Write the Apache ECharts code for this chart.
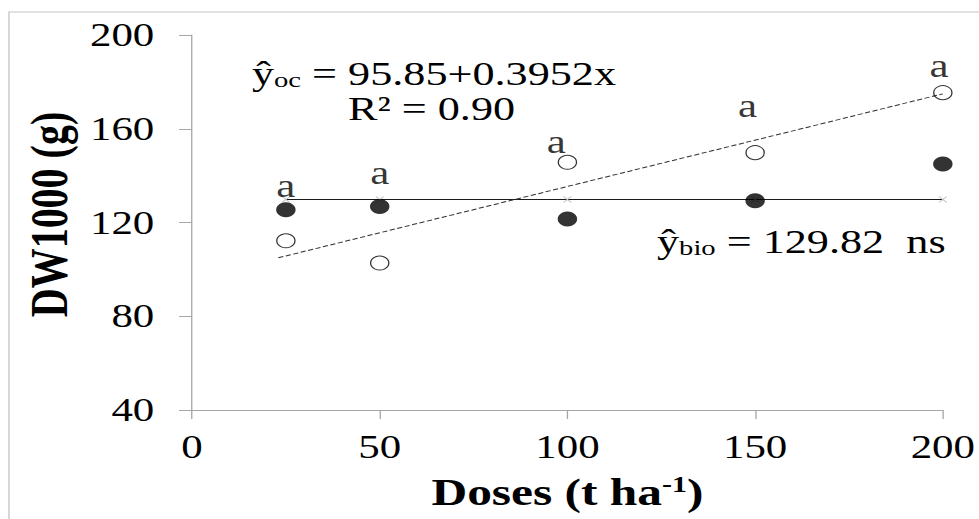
<!DOCTYPE html>
<html><head><meta charset="utf-8">
<script src="https://cdn.jsdelivr.net/npm/echarts@6/dist/echarts.min.js"></script>
<style>
html,body{margin:0;padding:0;background:#fff;overflow:hidden;width:979px;height:519px}
#wrap{width:979px;height:519px;overflow:hidden;position:relative}
#chart{width:753px;height:519px;transform:scaleX(1.3);transform-origin:0 0}
</style>
</head><body><div id="wrap"><div id="chart"></div></div>
<script>
// ---- data ----
const doses = [25, 50, 100, 150, 200];
const bioValues = [125.4, 126.8, 121.5, 129.3, 145.0];
const ocValues = [112.2, 102.7, 145.7, 149.8, 175.4];
const bioMean = 129.82;
const ocTrendX = [23, 200];
const ocTrendY = [104.94, 174.89];
const letters = ['a', 'a', 'a', 'a', 'a'];
const letterX = [25, 50, 97, 148, 199];
const letterY = [135.5, 141.0, 154.6, 169.6, 187.0];
const xTicks = [0, 50, 100, 150, 200];
const yTicks = [40, 80, 120, 160, 200];
const xTitle = 'Doses (t ha{sup|-1})';
const yTitle = 'DW1000 (g)';
const eqOc = 'ŷ{sub|oc} = 95.85+0.3952x';
const eqR2 = 'R² = 0.90';
const eqBio = 'ŷ{sub|bio} = 129.82  ns';

const FONT = 'Liberation Serif';
const AX = '#a6a6a6';

const chart = echarts.init(document.getElementById('chart'), null, {renderer: 'svg', width: 753, height: 519});

const bioData = doses.map((d, i) => [d, bioValues[i]]);
const ocData = doses.map((d, i) => [d, ocValues[i]]);
const bioLine = doses.map(d => [d, bioMean]);
const ocLine = ocTrendX.map((d, i) => [d, ocTrendY[i]]);
const letterData = letterX.map((d, i) => ({value: [d, letterY[i]], name: letters[i]}));

const eqText = {
  color: '#000', fontSize: 34, fontFamily: FONT, fontWeight: 'normal', lineHeight: 34,
  rich: {sub: {color: '#000', fontSize: 22, fontFamily: FONT, lineHeight: 14, verticalAlign: 'bottom'}}
};

chart.setOption({
  animation: false,
  textStyle: {fontFamily: FONT},
  title: [
    {text: eqOc, left: 193.8, top: 57, padding: 0, textStyle: eqText},
    {text: eqR2, left: 267.7, top: 92, padding: 0, textStyle: eqText},
    {text: eqBio, left: 505.4, top: 225, padding: 0, textStyle: eqText}
  ],
  grid: {left: 147.7, right: 27.6, top: 35, bottom: 109},
  xAxis: {
    type: 'value', min: xTicks[0], max: xTicks[xTicks.length - 1], interval: 50,
    splitLine: {show: false},
    axisLine: {show: true, lineStyle: {color: AX, width: 1}},
    axisTick: {show: true, inside: false, length: 9, lineStyle: {color: AX}},
    axisLabel: {color: '#000', fontSize: 33, fontFamily: FONT, margin: 20},
    name: xTitle, nameLocation: 'middle', nameGap: 63,
    nameTextStyle: {color: '#000', fontSize: 38, fontWeight: 'bold', fontFamily: FONT,
      rich: {sup: {fontSize: 23, fontWeight: 'bold', fontFamily: FONT, color: '#000', verticalAlign: 'top', lineHeight: 22}}}
  },
  yAxis: {
    type: 'value', min: yTicks[0], max: yTicks[yTicks.length - 1], interval: 40,
    splitLine: {show: false},
    axisLine: {show: true, lineStyle: {color: AX, width: 1}},
    axisTick: {show: true, inside: false, length: 10, lineStyle: {color: AX}},
    axisLabel: {color: '#000', fontSize: 33, fontFamily: FONT, margin: 29},
    name: yTitle, nameLocation: 'middle', nameGap: 85, nameRotate: 90,
    nameTextStyle: {color: '#000', fontSize: 40, fontWeight: 'bold', fontFamily: FONT, padding: [0, 0, 0, 16]}
  },
  graphic: [
    {type: 'rect', silent: true, shape: {x: 6.9, y: 12, width: 2000, height: 2000},
      style: {fill: 'none', stroke: '#c4c4c4', lineWidth: 1}}
  ],
  series: [
    {type: 'line', data: bioLine, symbol: 'path://M0,0L10,10M10,0L0,10', symbolSize: [6, 6], showSymbol: true,
      lineStyle: {color: '#1a1a1a', width: 1},
      itemStyle: {color: 'rgba(0,0,0,0)', borderColor: '#c0c0c0', borderWidth: 1}, z: 2},
    {type: 'line', data: ocLine, symbol: 'none',
      lineStyle: {color: '#333', width: 1, type: [4, 2]}, z: 2},
    {type: 'scatter', data: bioData, symbol: 'circle', symbolSize: 15,
      itemStyle: {color: '#000', borderColor: '#000', borderWidth: 0}, z: 3},
    {type: 'scatter', data: ocData, symbol: 'circle', symbolSize: 14,
      itemStyle: {color: 'rgba(0,0,0,0)', borderColor: '#000', borderWidth: 1}, z: 3},
    {type: 'scatter', data: letterData, symbolSize: 0, z: 4,
      label: {show: true, position: 'inside', formatter: p => p.name, color: '#000', fontSize: 33, fontFamily: FONT}}
  ]
});
</script></body></html>
